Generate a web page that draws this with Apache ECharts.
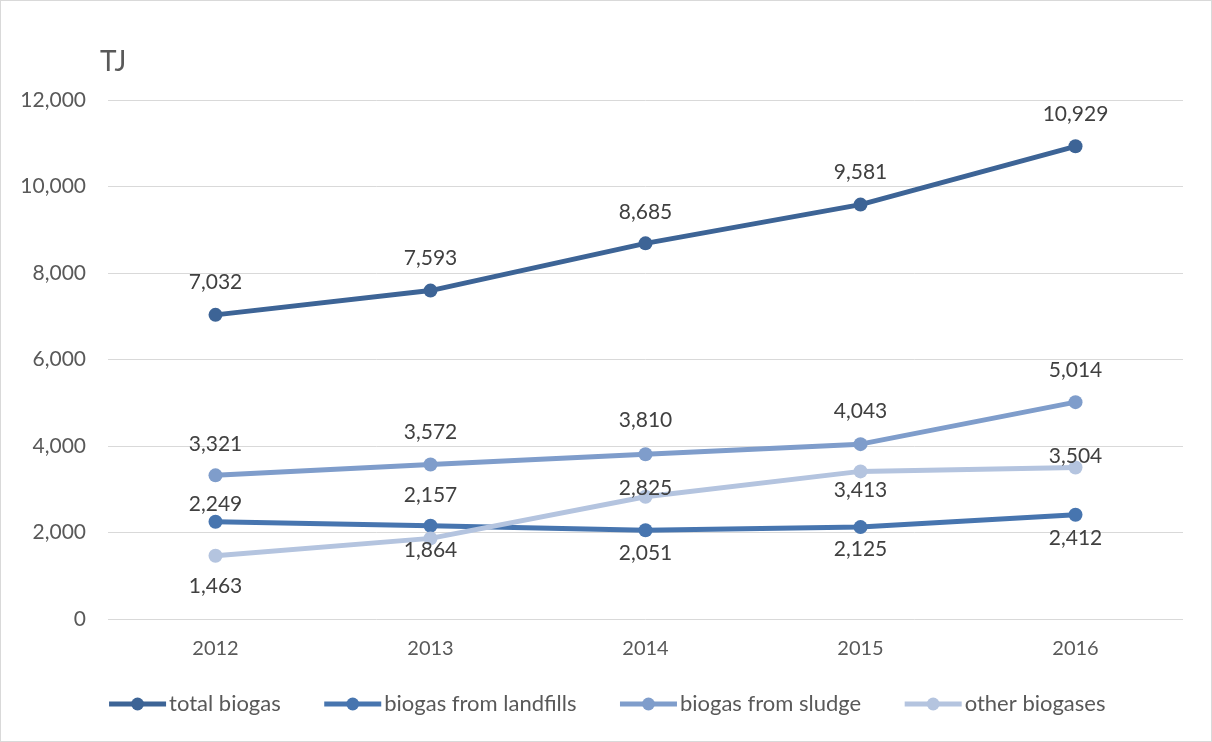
<!DOCTYPE html>
<html>
<head>
<meta charset="utf-8">
<script src="https://cdn.jsdelivr.net/npm/echarts@6/dist/echarts.min.js"></script>
<style>
  html, body { margin: 0; padding: 0; background: #fff; }
  #chart { width: 1210px; height: 740px; border: 1px solid #d9d9d9; }
</style>
</head>
<body>
<div id="chart"></div>
<script>
// Years on the category axis
const years = ['2012', '2013', '2014', '2015', '2016'];

// Biogas production, TJ
const totalBiogas = [7032, 7593, 8685, 9581, 10929];
const landfillBiogas = [2249, 2157, 2051, 2125, 2412];
const sludgeBiogas = [3321, 3572, 3810, 4043, 5014];
const otherBiogas = [1463, 1864, 2825, 3413, 3504];

// Label placement per point: [position, distance]
const totalPos = [['top', 15], ['top', 15], ['top', 14], ['top', 15], ['top', 15]];
const landfillPos = [['top', 0], ['top', 13], ['bottom', 5], ['bottom', 5], ['bottom', 6]];
const sludgePos = [['top', 14], ['top', 15], ['top', 16], ['top', 15], ['top', 14]];
const otherPos = [['bottom', 13], ['bottom', -6], ['top', -9], ['bottom', 1], ['top', -6]];

const fontFamily = 'Lato, "Open Sans", sans-serif';
const fmt = v => v.toLocaleString('en-US');

function points(values, pos) {
  return values.map((v, i) => ({
    value: v,
    label: { position: pos[i][0], distance: pos[i][1] }
  }));
}

function lineSeries(name, values, pos, color) {
  return {
    name: name,
    type: 'line',
    data: points(values, pos),
    symbol: 'circle',
    symbolSize: 14,
    lineStyle: { width: 5, color: color },
    itemStyle: { color: color },
    label: {
      show: true,
      color: '#404040',
      fontSize: 21,
      fontFamily: fontFamily,
      formatter: p => fmt(p.value)
    },
    emphasis: { disabled: true },
    z: 2
  };
}

const chart = echarts.init(document.getElementById('chart'));
chart.setOption({
  animation: false,
  backgroundColor: '#fff',
  title: {
    text: 'TJ',
    left: 94,
    top: 42,
    textStyle: { fontSize: 28, fontWeight: 'normal', color: '#595959', fontFamily: fontFamily }
  },
  legend: {
    bottom: 21,
    left: 'center',
    itemWidth: 57,
    itemHeight: 16,
    itemGap: 41,
    lineStyle: { width: 5 },
    textStyle: { fontSize: 22, color: '#595959', fontFamily: fontFamily, padding: [0, 0, 0, -2] },
    data: ['total biogas', 'biogas from landfills', 'biogas from sludge', 'other biogases']
  },
  grid: { left: 107, right: 28, top: 99, bottom: 122, containLabel: false },
  xAxis: {
    type: 'category',
    data: years,
    boundaryGap: true,
    axisLine: { show: false },
    axisTick: { show: false },
    axisLabel: { color: '#595959', fontSize: 20, fontFamily: fontFamily, margin: 20 }
  },
  yAxis: {
    type: 'value',
    min: 0,
    max: 12000,
    interval: 2000,
    axisLine: { show: false },
    axisTick: { show: false },
    splitLine: { lineStyle: { color: '#d9d9d9', width: 1 } },
    axisLabel: { color: '#595959', fontSize: 21, fontFamily: fontFamily, margin: 22, formatter: v => fmt(v) }
  },
  series: [
    lineSeries('total biogas', totalBiogas, totalPos, '#3d6496'),
    lineSeries('biogas from landfills', landfillBiogas, landfillPos, '#4775af'),
    lineSeries('biogas from sludge', sludgeBiogas, sludgePos, '#7f9dcb'),
    lineSeries('other biogases', otherBiogas, otherPos, '#b4c4df')
  ]
});
</script>
</body>
</html>
